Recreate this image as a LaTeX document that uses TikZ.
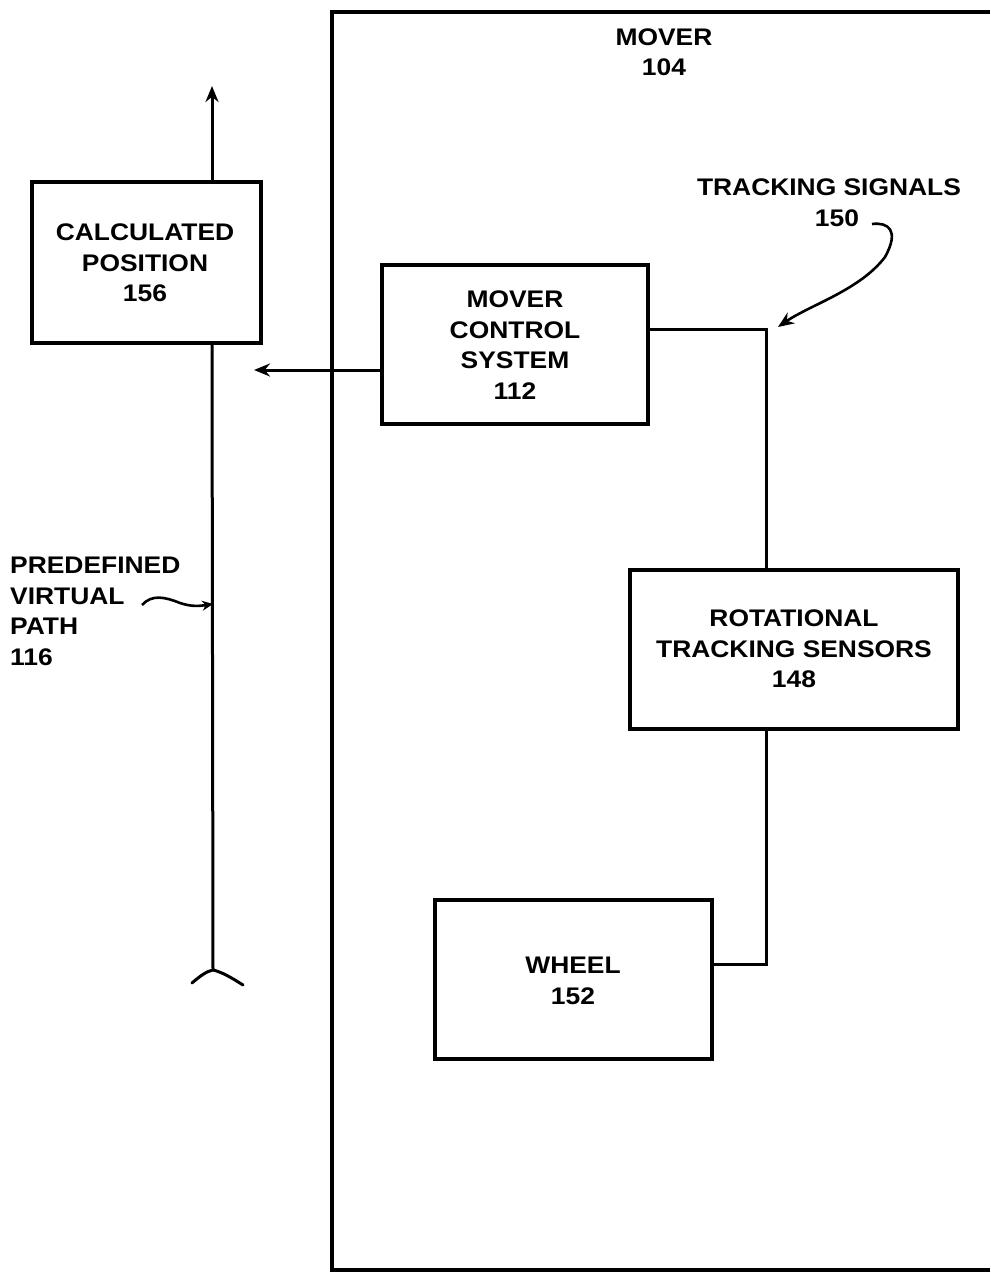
\documentclass[tikz,border=0pt]{standalone}
\usepackage{fontspec}
\setmainfont{Liberation Sans}[FakeStretch=1.1]
\usetikzlibrary{arrows.meta}
\tikzset{
  every node/.style={font=\fontsize{24}{30.5}\selectfont\bfseries, align=center, inner sep=0pt},
  blk/.style={draw, line width=3.3pt},
  wire/.style={line width=3pt},
  arr/.style={wire, -{Stealth[length=16pt,width=13pt]}},
}
\begin{document}
\begin{tikzpicture}[x=1pt,y=-1pt]
\useasboundingbox (0,0) rectangle (990,1273);
% mover frame
\draw[line width=3.3pt] (990,12) -- (332,12) -- (332,1270) -- (990,1270);
\node (mover) at (664,52) {MOVER\\104};
% boxes
\draw[blk] (32,182) rectangle (261,343);
\node (calc) at (145,263) {CALCULATED\\POSITION\\156};
\draw[blk] (382,265) rectangle (648,424);
\node (mcs) at (515,345) {MOVER\\CONTROL\\SYSTEM\\112};
\draw[blk] (630,570) rectangle (958,729);
\node (rts) at (794,649) {ROTATIONAL\\TRACKING SENSORS\\148};
\draw[blk] (435,900) rectangle (712,1059);
\node (wheel) at (573,981) {WHEEL\\152};
\coordinate (calcB) at (212,343);
\coordinate (calcT) at (212,182);
\coordinate (top) at (212,86);
\coordinate (tail) at (213,970);
% virtual path
\draw[arr] (calcT) -- (top);
\draw[wire] (calcB) -- (tail);
\draw[wire, line cap=round] (192,983) .. controls (200,976) and (207,971) .. (tail) .. controls (222,972) and (232,978) .. (243,985);
% control system output
\coordinate (outL) at (254,370);
\draw[arr] (382,370) -- (outL);
% wiring
\coordinate (j1) at (766,329);
\draw[wire] (648,329) -- (j1) -- (766,570);
\coordinate (j2) at (766,964);
\draw[wire] (766,729) -- (j2) -- (712,964);
% tracking signals
\node (ts) at (829,187) {TRACKING SIGNALS};
\node (n150) at (837,218) {150};
\coordinate (tsA) at (778,327);
\draw[arr, line width=2.6pt] (872,224) .. controls (888,222) and (900,230) .. (885,257) .. controls (860,290) and (810,305) .. (tsA);
% predefined virtual path
\node[align=left, anchor=north west] (pvp) at (10,557) {PREDEFINED\\VIRTUAL\\PATH\\116};
\coordinate (pvpA) at (213,604);
\draw[arr, line width=2.6pt, -{Stealth[length=11pt,width=10pt]}] (142,605) .. controls (152,594) and (165,597) .. (180,603) .. controls (192,607) and (200,606) .. (pvpA);
\end{tikzpicture}
\end{document}
